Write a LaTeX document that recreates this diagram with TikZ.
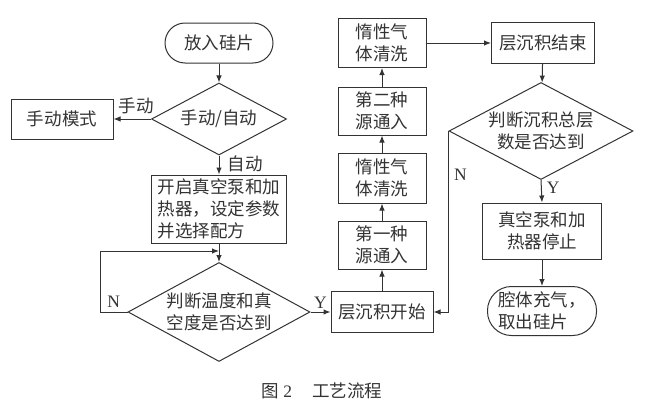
\documentclass[tikz,border=0pt]{standalone}
\usepackage{fontspec}
\setmainfont{Liberation Serif}
\newfontfamily\cjk{Noto Sans CJK SC}
\usetikzlibrary{positioning,calc,arrows.meta,shapes.geometric}
\definecolor{ink}{HTML}{333333}
\newcommand{\zh}{\cjk\fontsize{17.5}{22}\selectfont}
\tikzstyle{block} = [draw, rectangle, align=center, inner sep=2pt, font=\zh]
\tikzstyle{term} = [draw, rectangle, align=center, rounded corners=20pt, inner sep=2pt, font=\zh]
\tikzstyle{decide} = [draw, diamond, align=center, aspect=1.8, inner sep=0pt, font=\zh]
\tikzstyle{lbl} = [inner sep=2pt, font=\zh]
\tikzstyle{yn} = [inner sep=2pt, font=\fontsize{17.5}{22}\selectfont]
\tikzstyle{to} = [-{Latex[length=7pt,width=5.5pt]},line width=1pt]

\begin{document}
\begin{tikzpicture}[x=1pt, y=-1pt, color=ink, line width=1pt]
		\useasboundingbox (0,0) rectangle (655,415);
		\node (load) [term, minimum width=108pt, minimum height=40pt] at (219,43) {放入硅片};
		\node (mode) [decide, minimum width=135pt, minimum height=72pt] at (219,119) {手动/自动};
		\node (manual) [block, minimum width=102pt, minimum height=40pt] at (62,119) {手动模式};
		\node (prep) [block, align=left, minimum width=135pt, minimum height=68pt] at (219,209) {开启真空泵和加\\热器，设定参数\\并选择配方};
		\node (check1) [decide, minimum width=182pt, minimum height=99pt] at (219,312) {判断温度和真\\空度是否达到};
		\node (layer) [block, minimum width=102pt, minimum height=41pt] at (382,312) {层沉积开始};
		\node (src1) [block, minimum width=88pt, minimum height=48pt] at (382,245) {第一种\\源通入};
		\node (purge1) [block, minimum width=88pt, minimum height=50pt] at (382,178) {惰性气\\体清洗};
		\node (src2) [block, minimum width=88pt, minimum height=48pt] at (382,111) {第二种\\源通入};
		\node (purge2) [block, minimum width=88pt, minimum height=49pt] at (382,43) {惰性气\\体清洗};
		\node (done) [block, minimum width=103pt, minimum height=41pt] at (543,43) {层沉积结束};
		\node (check2) [decide, minimum width=184pt, minimum height=97pt] at (541,131) {判断沉积总层\\数是否达到};
		\node (stop) [block, minimum width=119pt, minimum height=56pt] at (542,231) {真空泵和加\\热器停止};
		\node (unload) [term, align=left, rounded corners=24pt, minimum width=109pt, minimum height=49pt] at (542,311) {腔体充气，\\取出硅片};
		\node (cap) [lbl] at (322,391) {图~{\rmfamily 2}\hspace{20pt}工艺流程};
		\coordinate (loop) at (100,312);
		\coordinate (join) at (219,251);
		\draw[to] (load) -- (mode);
		\draw[to] (mode.west) -- node[lbl, above, pos=0.4, yshift=3pt] {手动} (manual.east);
		\draw[to] (mode.south) -- node[lbl, right, pos=0.45, xshift=6pt] {自动} (prep.north);
		\draw[to] (prep.south) -- (check1.north);
		\draw[to] (check1.west) -- node[yn, above, yshift=2pt] {N} (loop) |- (join);
		\draw[to] (check1.east) -- node[yn, above, yshift=1pt] {Y} (layer.west);
		\draw[to] (layer) -- (src1);
		\draw[to] (src1) -- (purge1);
		\draw[to] (purge1) -- (src2);
		\draw[to] (src2) -- (purge2);
		\draw[to] (purge2) -- (done);
		\draw[to] (done) -- (check2);
		\draw[to] (check2.west) |- node[yn, right, pos=0.12, xshift=3pt] {N} (layer.east);
		\draw[to] (check2.south) -- node[yn, right, pos=0.35, xshift=3pt] {Y} (stop.north);
		\draw[to] (stop) -- (unload);
\end{tikzpicture}
\end{document}
